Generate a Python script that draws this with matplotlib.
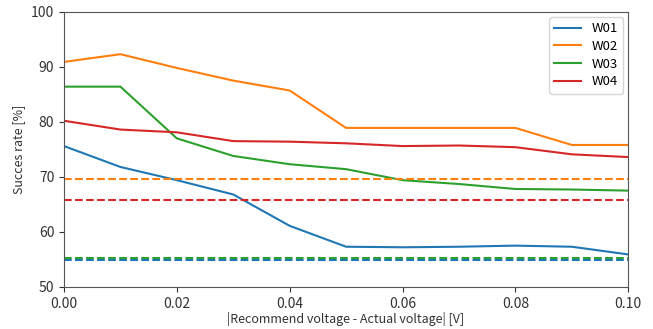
import matplotlib
matplotlib.use("Agg")
import matplotlib.pyplot as plt

plt.rcParams['font.family'] = ['Noto Sans CJK JP', 'DejaVu Sans']

# voltage difference [V]
x = [0.00, 0.01, 0.02, 0.03, 0.04, 0.05, 0.06, 0.07, 0.08, 0.09, 0.10]

w01 = [75.6, 71.8, 69.4, 66.8, 61.1, 57.3, 57.2, 57.3, 57.5, 57.3, 55.9]
w02 = [90.9, 92.3, 89.8, 87.5, 85.7, 78.9, 78.9, 78.9, 78.9, 75.8, 75.8]
w03 = [86.4, 86.4, 77.0, 73.8, 72.3, 71.4, 69.4, 68.7, 67.8, 67.7, 67.5]
w04 = [80.2, 78.6, 78.1, 76.5, 76.4, 76.1, 75.6, 75.7, 75.4, 74.1, 73.6]

# baselines (dashed)
base = {"W01": 54.8, "W02": 69.7, "W03": 55.3, "W04": 65.8}

labels = ["W01", "W02", "W03", "W04"]
colors = ["tab:blue", "tab:orange", "tab:green", "tab:red"]
series = [w01, w02, w03, w04]

fig = plt.figure(figsize=(6.53, 3.29), dpi=100)
ax = fig.add_axes([0.098, 0.128, 0.864, 0.836])

for lab, col, ys in zip(labels, colors, series):
    ax.plot(x, ys, color=col, label=lab, lw=1.5)
for lab, col in zip(labels, colors):
    ax.axhline(base[lab], color=col, ls="--", lw=1.5)

ax.set_xlim(0, 0.1)
ax.set_ylim(50, 100)
ax.set_xticks([0.0, 0.02, 0.04, 0.06, 0.08, 0.10])
ax.set_xticklabels(["0.00", "0.02", "0.04", "0.06", "0.08", "0.10"])
ax.set_yticks([50, 60, 70, 80, 90, 100])
ax.tick_params(labelsize=10, colors="#333333")
for s in ax.spines.values():
    s.set_color("#555555")
ax.set_xlabel("|Recommend voltage - Actual voltage| [V]", fontsize=9,
              color="#333333", labelpad=1)
ax.set_ylabel("Succes rate [%]", fontsize=9, color="#333333")
ax.legend(loc="upper right", fontsize=9.5, labelspacing=0.35,
          borderaxespad=0.4)

fig.savefig("out.png", dpi=100)
